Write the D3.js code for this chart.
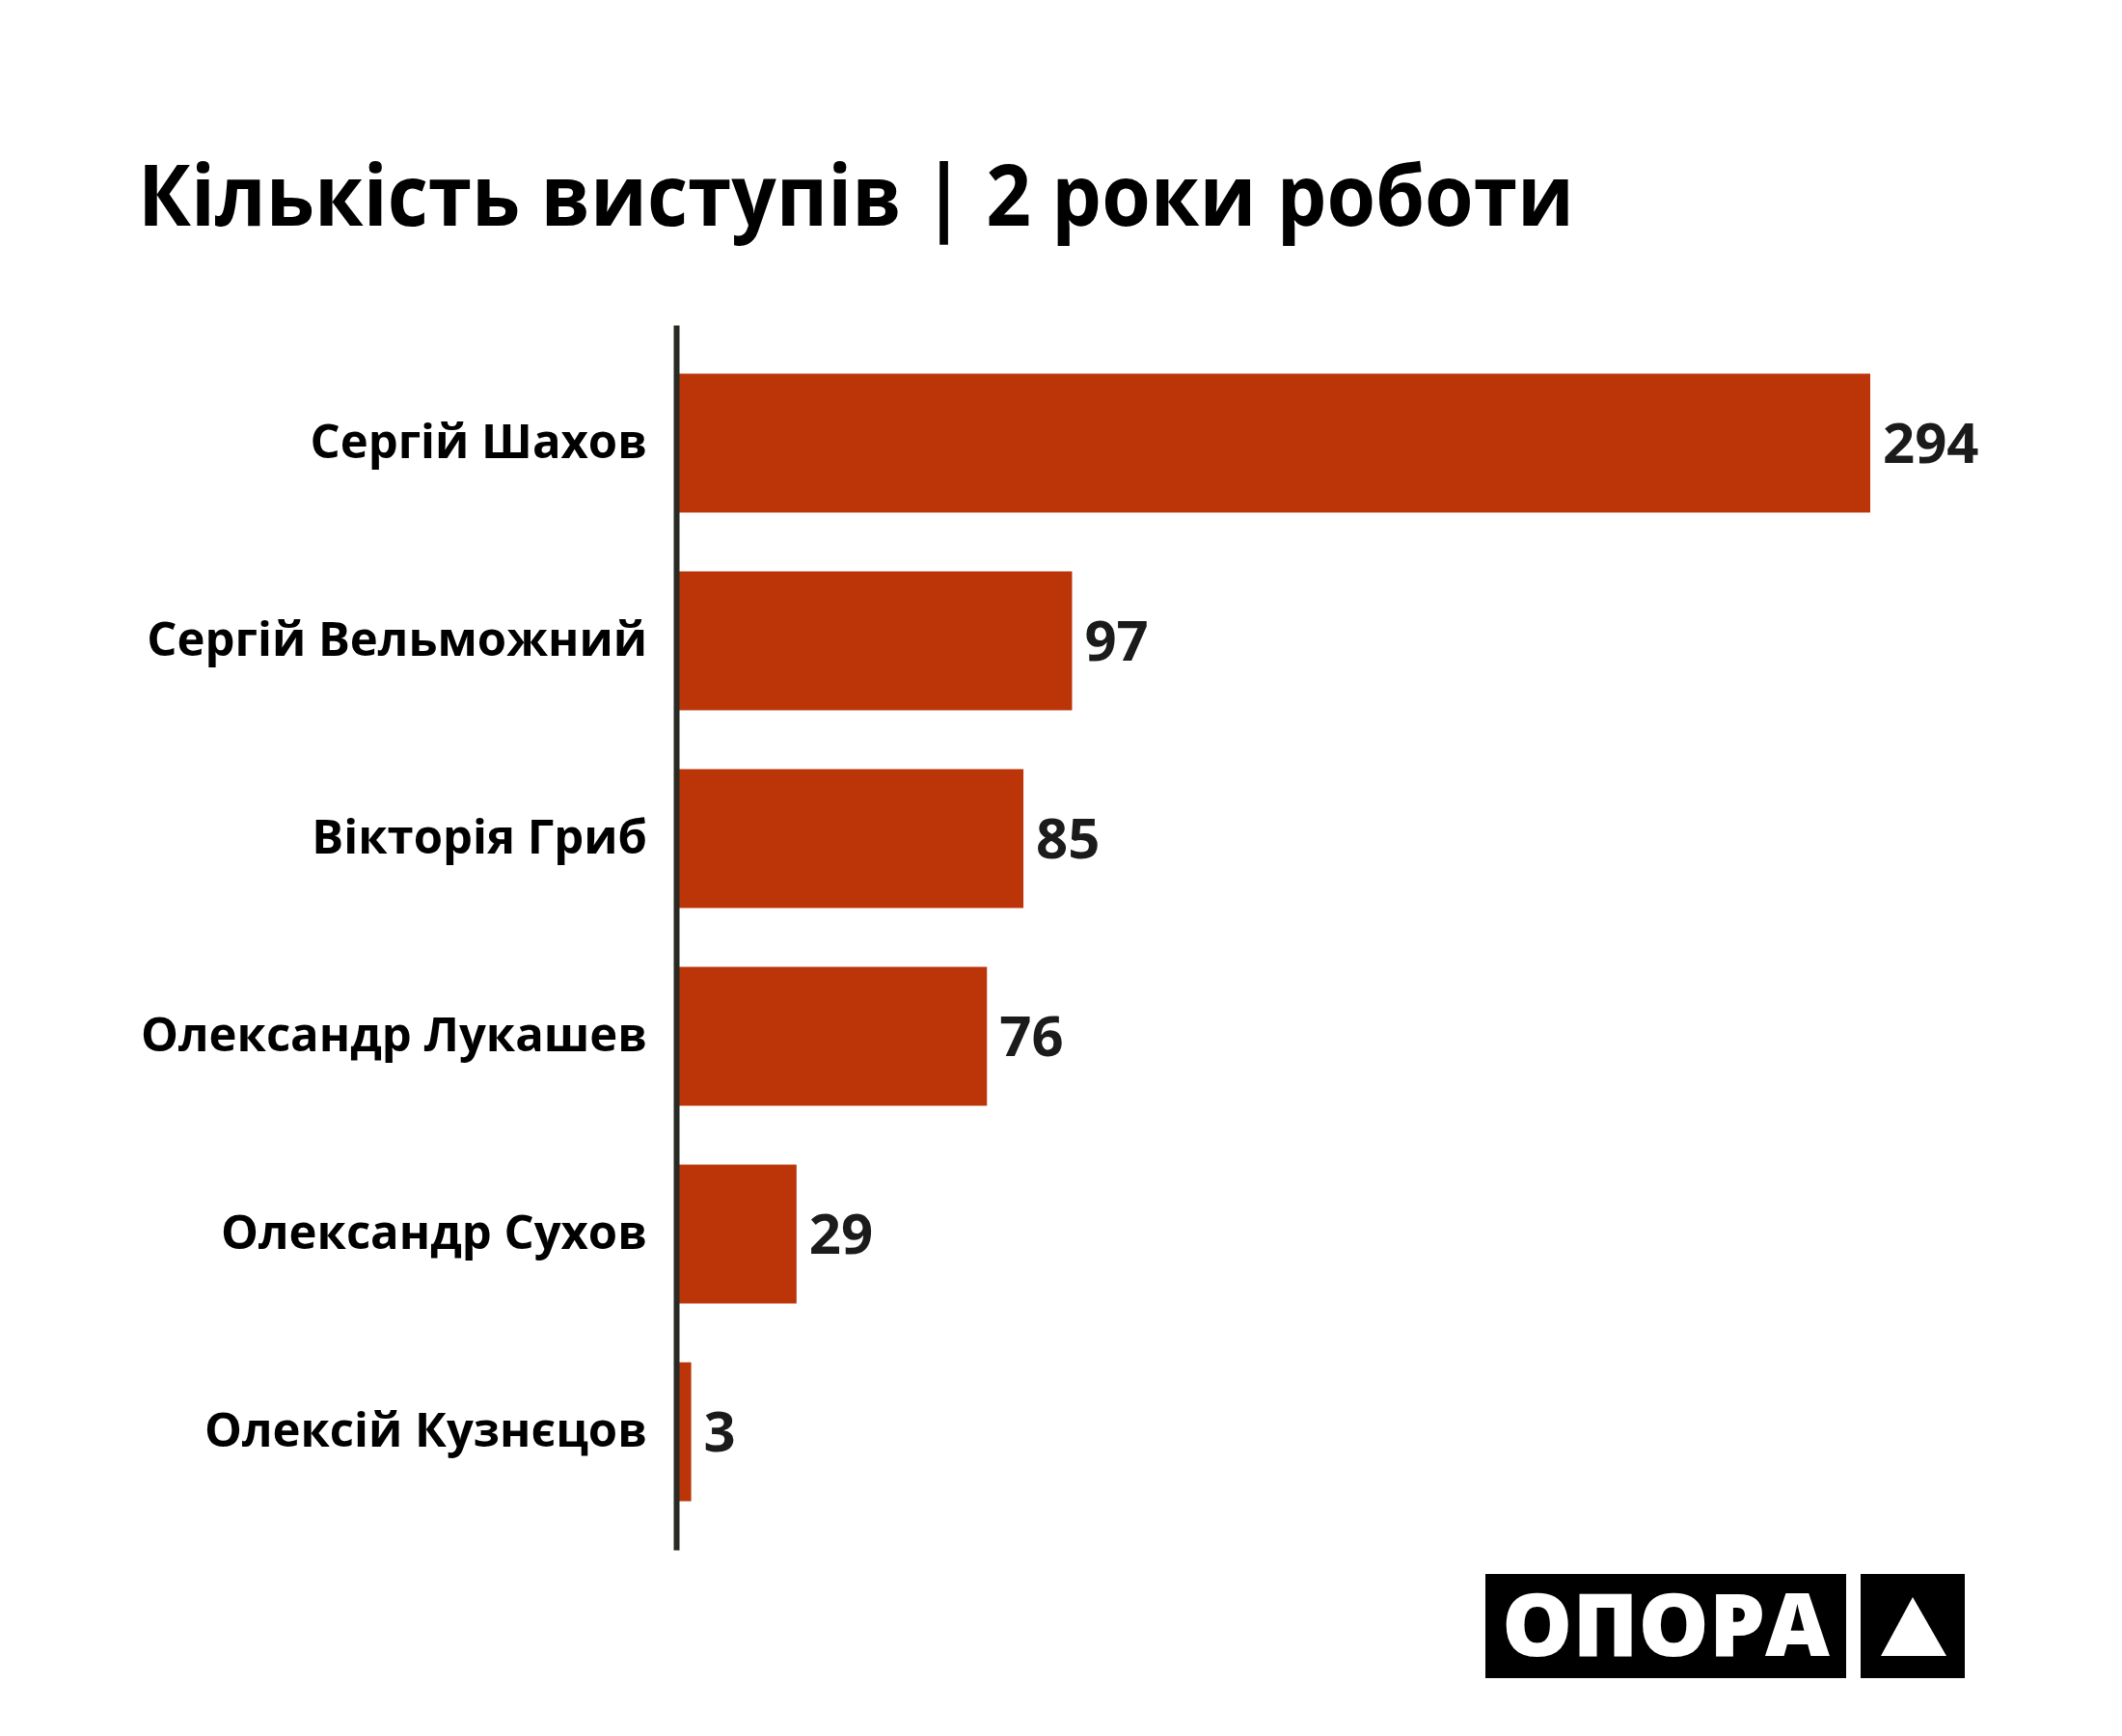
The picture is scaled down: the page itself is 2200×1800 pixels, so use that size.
<!DOCTYPE html>
<html>
<head>
<meta charset="utf-8">
<script src="https://cdn.jsdelivr.net/npm/d3@7"></script>
<style>
  body { margin: 0; background: #fff; }
  svg { display: block; font-family: "Open Sans", "Noto Sans", sans-serif; }
</style>
</head>
<body>
<svg width="2200" height="1800"></svg>
<script>
const names = [
  "Сергій Шахов",
  "Сергій Вельможний",
  "Вікторія Гриб",
  "Олександр Лукашев",
  "Олександр Сухов",
  "Олексій Кузнєцов",
];
const speeches = [294, 97, 85, 76, 29, 3];
const title = "Кількість виступів | 2 роки роботи";
const logoText = "ОПОРА";

const data = names.map((name, i) => ({ name, value: speeches[i] }));

const svg = d3.select("svg");
svg.append("rect").attr("width", 2200).attr("height", 1800).attr("fill", "#fff");

const x = d3.scaleLinear().domain([0, 294]).range([704, 1939]);
const y = d3
  .scaleBand()
  .domain(names)
  .range([337, 1607])
  .paddingInner(0.2976)
  .paddingOuter(0.246);

// title (Ubuntu-like width, so squeeze it a little)
svg
  .append("text")
  .attr("x", 143)
  .attr("y", 234)
  .attr("textLength", 1489)
  .attr("lengthAdjust", "spacingAndGlyphs")
  .style("font-size", "87px")
  .style("font-weight", 700)
  .attr("fill", "#000")
  .text(title);

// bars
svg
  .append("g")
  .selectAll("rect")
  .data(data)
  .join("rect")
  .attr("x", x(0))
  .attr("y", (d) => y(d.name))
  .attr("width", (d) => x(d.value) - x(0))
  .attr("height", y.bandwidth())
  .attr("fill", "#bc3508");

// value labels
svg
  .append("g")
  .selectAll("text")
  .data(data)
  .join("text")
  .attr("x", (d) => x(d.value) + 13)
  .attr("y", (d) => y(d.name) + y.bandwidth() / 2)
  .attr("dy", "0.35em")
  .style("font-size", "58px")
  .style("font-weight", 700)
  .attr("fill", "#1b1b1b")
  .text((d) => d.value);

// y axis with names
const yAxis = svg
  .append("g")
  .attr("transform", `translate(701,0)`)
  .call(d3.axisLeft(y).tickSize(0).tickPadding(30));

yAxis
  .select(".domain")
  .attr("stroke", "#282a24")
  .attr("stroke-width", 6);

yAxis
  .selectAll(".tick text")
  .attr("fill", "#000")
  .style("font-family", '"Open Sans", "Noto Sans", sans-serif')
  .style("font-size", "49px")
  .style("font-weight", 700);

// logo
const logo = svg.append("g");
logo.append("rect").attr("x", 1540).attr("y", 1632).attr("width", 374).attr("height", 108).attr("fill", "#000");
logo.append("rect").attr("x", 1929).attr("y", 1632).attr("width", 108).attr("height", 108).attr("fill", "#000");
logo
  .append("text")
  .attr("x", 1557)
  .attr("y", 1717)
  .attr("textLength", 340)
  .attr("lengthAdjust", "spacingAndGlyphs")
  .style("font-size", "90px")
  .style("font-weight", 800)
  .attr("fill", "#fff")
  .text(logoText);
logo
  .append("path")
  .attr("d", "M1983,1656 L2018,1717 L1950,1717 Z")
  .attr("fill", "#fff");
</script>
</body>
</html>
